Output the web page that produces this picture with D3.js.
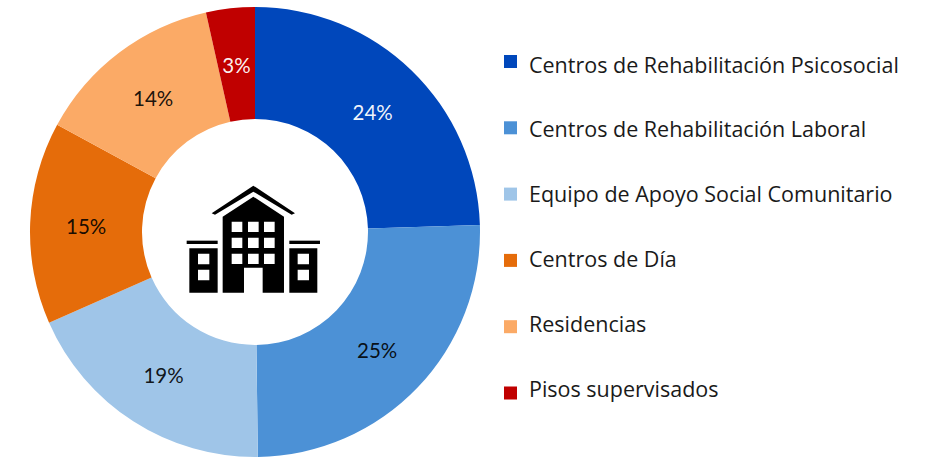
<!DOCTYPE html>
<html><head><meta charset="utf-8">
<script src="https://cdnjs.cloudflare.com/ajax/libs/d3/7.8.5/d3.min.js"></script>
<style>html,body{margin:0;padding:0;background:#fff}svg{display:block}</style></head>
<body><svg id="c" width="932" height="459"></svg>
<script>
const categories = ["Centros de Rehabilitación Psicosocial","Centros de Rehabilitación Laboral","Equipo de Apoyo Social Comunitario","Centros de Día","Residencias","Pisos supervisados"];
const values = [24.5,25.3,18.6,14.5,13.6,3.5];
const labels = ["24%","25%","19%","15%","14%","3%"];
const colors = ["#0047BB","#4C91D6","#9FC5E8","#E56C0A","#FBAA66","#C00000"];
const labelColors = ["#fff","#000","#000","#000","#000","#fff"];

const svg = d3.select("#c");
const cx = 255, cy = 232, R = 225, r = 113;
const pie = d3.pie().sort(null).value(d=>d);
const arc = d3.arc().outerRadius(R).innerRadius(r);
const g = svg.append("g").attr("transform",`translate(${cx},${cy})`);
const arcs = pie(values);
g.selectAll("path").data(arcs).join("path").attr("d",arc).attr("fill",(d,i)=>colors[i]);
g.selectAll("text").data(arcs).join("text")
  .attr("transform",d=>{const c=arc.centroid(d);return `translate(${c[0]},${c[1]+2})`;})
  .attr("text-anchor","middle").attr("dy","0.35em")
  .attr("font-family","Lato").attr("font-weight",400).attr("font-size",20.5)
  .attr("fill",(d,i)=>labelColors[i])
  .attr("fill-opacity",(d,i)=>i===0||i===5?0.95:0.9)
  .text((d,i)=>labels[i]);

// legend
const legendY = d3.scalePoint().domain(categories).range([61.5,393]);
const textY = d3.scalePoint().domain(categories).range([65,389]);
const leg = svg.append("g");
leg.selectAll("rect").data(categories).join("rect")
  .attr("x",504).attr("y",d=>legendY(d)-6.5).attr("width",13).attr("height",13)
  .attr("fill",(d,i)=>colors[i]);
leg.selectAll("text").data(categories).join("text")
  .attr("x",529).attr("y",d=>textY(d)).attr("dy","0.35em")
  .attr("font-family","'Open Sans'").attr("font-size",21.5).attr("fill","#1a1a1a")
  .text(d=>d);

// building icon
const icon = svg.append("g").attr("transform","translate(180,170) scale(0.3333)").attr("fill","#000");
icon.append("path").attr("d","M95,130 L220,47 L345,130 L335,134 L220,65 L105,134 Z");
icon.append("path").attr("fill-rule","evenodd").attr("d",
 "M128,140 L220,80 L312,140 L312,368 L248,368 L248,293 L192,293 L192,368 L128,368 Z "+
 [155,204,252].flatMap(x=>[155,203,251].map(y=>`M${x},${y} h32 v31 h-32 Z`)).join(" "));
icon.append("rect").attr("x",20).attr("y",212).attr("width",93).attr("height",10);
icon.append("rect").attr("x",328).attr("y",212).attr("width",92).attr("height",10);
icon.append("path").attr("fill-rule","evenodd").attr("d",
 "M28,235 H113 V368 H28 Z M54,251 h34 v32 h-34 Z M54,299 h34 v32 h-34 Z");
icon.append("path").attr("fill-rule","evenodd").attr("d",
 "M328,235 H412 V368 H328 Z M353,251 h34 v32 h-34 Z M353,299 h34 v32 h-34 Z");
</script></body></html>
